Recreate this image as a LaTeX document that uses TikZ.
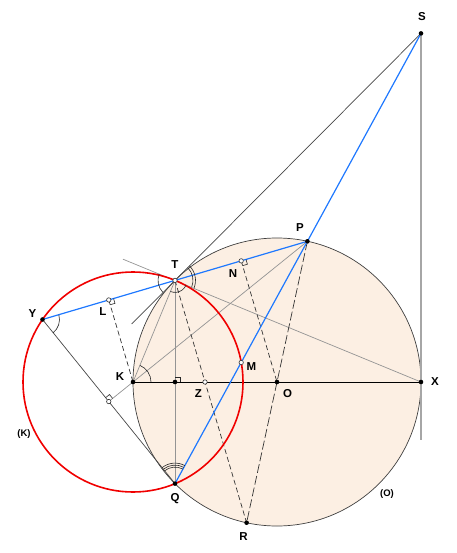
\documentclass[tikz,border=0pt]{standalone}
\usepackage{fontspec}
\setmainfont{Liberation Sans}
\usetikzlibrary{calc}
\definecolor{peach}{RGB}{252,239,227}
\definecolor{myblue}{RGB}{30,120,255}
\definecolor{myred}{RGB}{240,0,0}
\begin{document}
\begin{tikzpicture}[x=1pt,y=-1pt,
  lbl/.style={font=\fontsize{11.5}{13}\selectfont\bfseries, inner sep=0pt},
  clbl/.style={font=\fontsize{9.5}{11}\selectfont\bfseries, inner sep=0pt},
  gline/.style={draw=black!42, line width=0.7pt},
  dline/.style={draw=black!72, line width=0.7pt},
  bline/.style={draw=myblue, line width=1.2pt},
  dashA/.style={draw=black!80, line width=0.7pt, dash pattern=on 5pt off 3pt},
  dashB/.style={draw=black!80, line width=0.7pt, dash pattern=on 9pt off 3pt},
  fdot/.style={circle, fill=black, inner sep=0pt, minimum size=4.6pt},
  odot/.style={circle, draw=black!80, fill=white, line width=0.6pt, inner sep=0pt, minimum size=4.4pt},
  ang/.style={draw=black!85, line width=0.6pt}]
\useasboundingbox (0,0) rectangle (456,553);
% points
\coordinate (O) at (277,382);
\coordinate (K) at (133,382);
\coordinate (X) at (421,382);
\coordinate (T) at (175,280.4);
\coordinate (Q) at (175,483.6);
\coordinate (S) at (421,33.4);
\coordinate (P) at (307.4,241.3);
\coordinate (R) at (246.6,522.7);
\coordinate (M) at (241.2,362.5);
\coordinate (Y) at (42.5,319.5);
\coordinate (L) at (108.75,299.95);
\coordinate (N) at (241.2,260.85);
\coordinate (F) at (108.75,401.55);
\coordinate (H) at (175,382);
\coordinate (Z) at (205,382);
\coordinate (Te) at (131.7,324);
\coordinate (Xe) at (123,259.2);
\coordinate (Sb) at (421,440);
% circle (O)
\fill[peach] (O) circle[radius=144];
\draw[draw=black!75, line width=0.7pt] (O) circle[radius=144];
% gray / dark lines
\draw[draw=black!35, line width=1.8pt] (S) -- (Sb);
\draw[gline] (X) -- (Xe);
\draw[gline] (K) -- (T);
\draw[gline] (K) -- (P);
\draw[gline] (T) -- (Q);
\draw[gline] (K) -- (F);
\draw[dline] (S) -- (Te);
\draw[dline] (Y) -- (Q);
\draw[draw=black, line width=0.9pt] (K) -- (X);
% dashed lines
\draw[dashA] (L) -- (K);
\draw[dashA] (N) -- (O);
\draw[dashA] (T) -- (R);
\draw[dashB] (P) -- (R);
% red circle
\draw[draw=myred, line width=1.6pt] (K) circle[radius=110];
% blue lines
\draw[bline] (Y) -- (P);
\draw[bline] (S) -- (Q);
% right angle marks
\coordinate (L1) at ($(L)!5pt!(T)$); \coordinate (L2) at ($(L)!5pt!(K)$);
\draw[ang] (L1) -- ($(L1)+(L2)-(L)$) -- (L2);
\coordinate (N1) at ($(N)!5pt!(P)$); \coordinate (N2) at ($(N)!5pt!(O)$);
\draw[ang] (N1) -- ($(N1)+(N2)-(N)$) -- (N2);
\coordinate (F1) at ($(F)!5pt!(K)$); \coordinate (F2) at ($(F)!5pt!(Y)$);
\draw[ang] (F1) -- ($(F1)+(F2)-(F)$) -- (F2);
\coordinate (H1) at ($(H)!5pt!(X)$); \coordinate (H2) at ($(H)!5pt!(T)$);
\draw[ang] (H1) -- ($(H1)+(H2)-(H)$) -- (H2);
% angle arcs
\draw[ang] ([shift={(-157.7:17)}]T) arc[start angle=-157.7, end angle=-225, radius=17];
\draw[ang] ([shift={(22.3:18)}]T) arc[start angle=22.3, end angle=-45.2, radius=18];
\draw[ang] ([shift={(22.3:20.5)}]T) arc[start angle=22.3, end angle=-45.2, radius=20.5];
\draw[ang] ([shift={(-247.4:12)}]T) arc[start angle=-247.4, end angle=-337.7, radius=12];
\draw[ang] ([shift={(51.1:17)}]Y) arc[start angle=51.1, end angle=-15.5, radius=17];
\draw[ang] ([shift={(0:18)}]K) arc[start angle=0, end angle=-67.4, radius=18];
\draw[ang] ([shift={(-61.35:16.5)}]Q) arc[start angle=-61.35, end angle=-128.9, radius=16.5];
\draw[ang] ([shift={(-61.35:18.5)}]Q) arc[start angle=-61.35, end angle=-128.9, radius=18.5];
\draw[ang] ([shift={(-61.35:20.5)}]Q) arc[start angle=-61.35, end angle=-128.9, radius=20.5];
% dots
\node[fdot] (dS) at (S) {};
\node[fdot] (dP) at (P) {};
\node[fdot] (dK) at (K) {};
\node[fdot] (dH) at (H) {};
\node[fdot] (dO) at (O) {};
\node[fdot] (dX) at (X) {};
\node[fdot] (dY) at (Y) {};
\node[fdot] (dQ) at (Q) {};
\node[fdot] (dR) at (R) {};
\node[odot] (dT) at (T) {};
\node[odot] (dL) at (L) {};
\node[odot] (dN) at (N) {};
\node[odot] (dM) at (M) {};
\node[odot] (dZ) at (Z) {};
\node[odot] (dF) at (F) {};
% labels
\node[lbl] (lS) at (422,17) {S};
\node[lbl] (lP) at (300,228) {P};
\node[lbl] (lT) at (175,264.5) {T};
\node[lbl] (lN) at (233,274) {N};
\node[lbl] (lL) at (103,312) {L};
\node[lbl] (lY) at (32.5,314) {Y};
\node[lbl] (lK) at (120,376.5) {K};
\node[lbl] (lZ) at (198.5,393.5) {Z};
\node[lbl] (lM) at (251.5,366.5) {M};
\node[lbl] (lO) at (287.5,393.5) {O};
\node[lbl] (lX) at (435,382) {X};
\node[lbl] (lQ) at (175,498.5) {Q};
\node[lbl] (lR) at (243.5,536.5) {R};
\node[clbl] (lKc) at (24,434) {(K)};
\node[clbl] (lOc) at (387,494) {(O)};
\end{tikzpicture}
\end{document}
